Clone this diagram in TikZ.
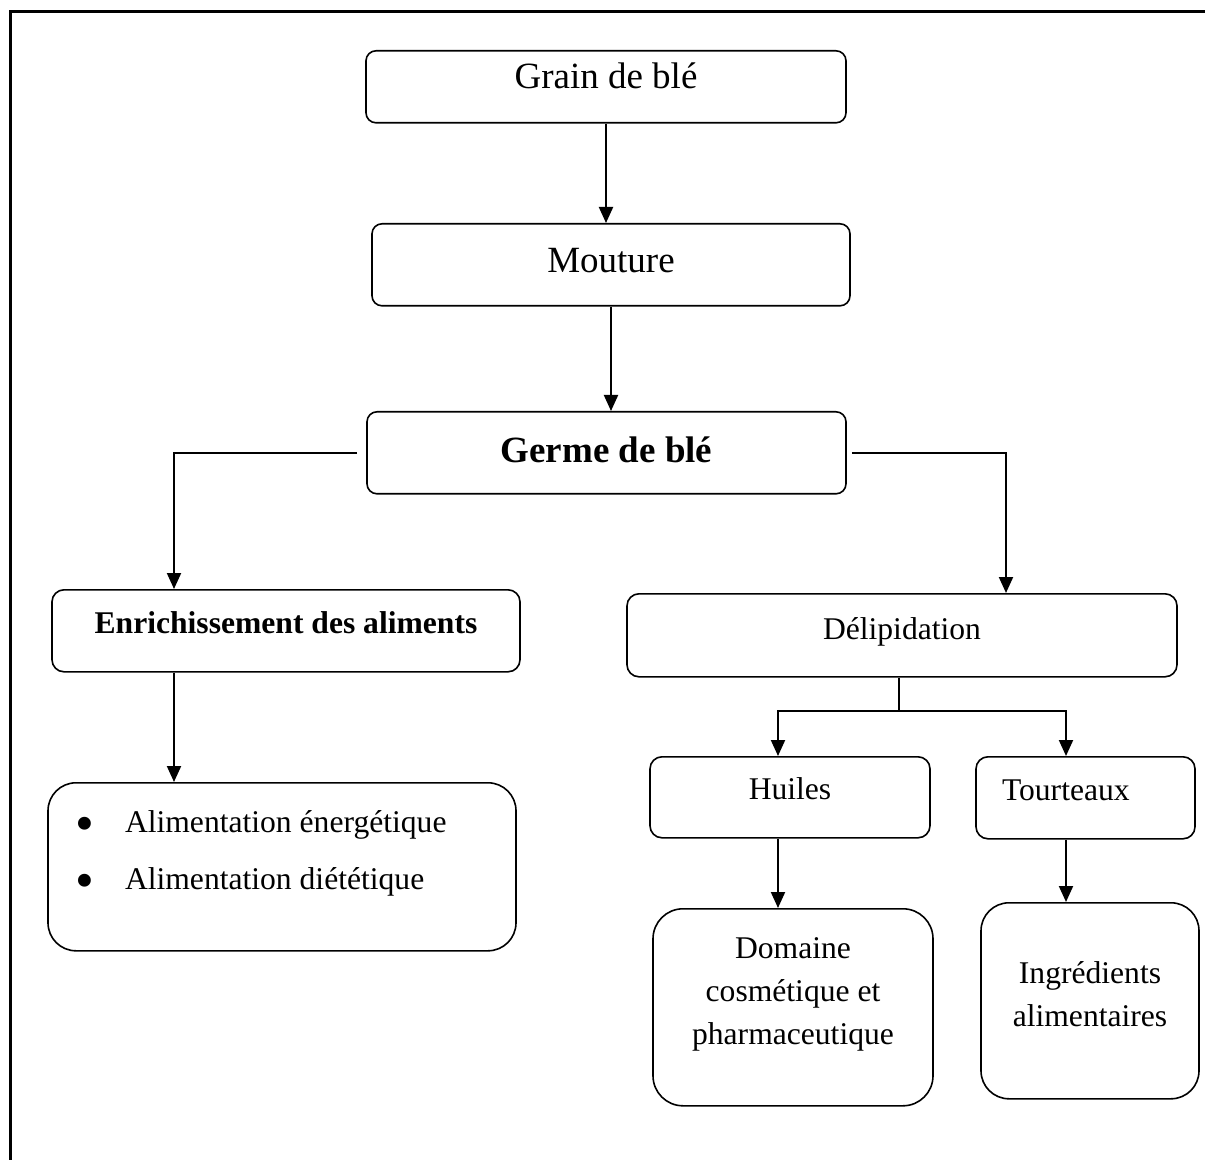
\documentclass[tikz,border=0pt]{standalone}
\usepackage{fontspec}
\setmainfont{Liberation Serif}
\usetikzlibrary{arrows.meta, positioning}

\newcommand{\puce}{\makebox[23.75pt][l]{\hspace{-1pt}\raisebox{-4.5pt}{\scalebox{1.7}{\textbullet}}}}

\begin{document}
\begin{tikzpicture}[
		x=0.5pt, y=-0.5pt,
		>={Triangle[length=8pt,width=7pt]},
		block/.style={draw, rectangle, rounded corners=5pt, inner sep=0pt, anchor=north, align=flush center, line width=0.8pt},
		bigtxt/.style={font=\fontsize{18.5pt}{22pt}\selectfont},
		smalltxt/.style={font=\fontsize{15.8pt}{21.5pt}\selectfont},
		link/.style={->, line width=1pt}
		]
		\useasboundingbox (0,0) rectangle (1205,1160);
		
		% --- frame (top and left only) ---
		\draw[line width=1.5pt] (10,1160) -- (10,12) -- (1205,12);
		
		% --- main column ---
		\node[block, bigtxt, minimum width=240pt, minimum height=36pt, text height=19pt, text depth=17pt] (grain) at (606,50) {Grain de blé};
		\node[block, bigtxt, minimum width=239pt, minimum height=41pt, text height=24.5pt, text depth=16.5pt] (mouture) at (611,223) {Mouture};
		\node[block, bigtxt, minimum width=239.5pt, minimum height=41pt, text height=25.5pt, text depth=15.5pt, font=\fontsize{18.5pt}{22pt}\selectfont\bfseries] (germe) at (606.5,411) {Germe de blé};
		
		% --- left branch ---
		\node[block, smalltxt, rounded corners=6pt, minimum width=234pt, minimum height=41pt, text height=22pt, text depth=19pt, font=\fontsize{15.8pt}{21.5pt}\selectfont\bfseries] (enrich) at (286,589) {Enrichissement des aliments};
		\node[block, smalltxt, rounded corners=14pt, align=flush left, inner xsep=14.75pt, text width=204.5pt, minimum height=84pt, text height=25pt, text depth=59pt] (alim) at (282,782)
			{\puce Alimentation énergétique\\[7pt]\puce Alimentation diététique};
		
		% --- right branch ---
		\node[block, smalltxt, rounded corners=6pt, minimum width=275pt, minimum height=41.5pt, text height=23pt, text depth=18.5pt] (delip) at (902,593) {Délipidation};
		\node[block, smalltxt, rounded corners=6pt, minimum width=140pt, minimum height=40.5pt, text height=21.5pt, text depth=19pt] (huiles) at (790,756) {Huiles};
		\node[block, smalltxt, rounded corners=6pt, align=flush left, inner xsep=13pt, text width=83.5pt, minimum height=41pt, text height=22pt, text depth=19pt] (tourt) at (1085.5,756) {Tourteaux};
		\node[block, smalltxt, rounded corners=15pt, text width=140pt, minimum height=98.5pt, text height=25pt, text depth=73.5pt] (domaine) at (793,908) {Domaine\\cosmétique et\\pharmaceutique};
		\node[block, smalltxt, rounded corners=14pt, text width=109pt, minimum height=98pt, text height=40.5pt, text depth=57.5pt] (ingr) at (1090,902) {Ingrédients\\alimentaires};
		
		% --- connectors ---
		\draw[link] (grain.south) -- (grain.south |- mouture.north);
		\draw[link] (mouture.south) -- (mouture.south |- germe.north);
		\draw[link] ([xshift=-4.5pt]germe.west) -| ([xshift=-56pt]enrich.north);
		\draw[link] ([xshift=2.5pt]germe.east) -| ([xshift=52pt]delip.north);
		\draw[link] ([xshift=-56pt]enrich.south) -- ([xshift=-56pt]enrich.south |- alim.north);
		
		\draw[line width=1pt] ([xshift=-1.5pt]delip.south) -- ++(0,-16.5pt) coordinate (split);
		\draw[link] (split) -| ([xshift=-6pt]huiles.north);
		\draw[link] (split) -| ([xshift=-9.75pt]tourt.north);
		\draw[link] ([xshift=-6pt]huiles.south) -- ([xshift=-6pt]huiles.south |- domaine.north);
		\draw[link] ([xshift=-9.75pt]tourt.south) -- ([xshift=-9.75pt]tourt.south |- ingr.north);
	\end{tikzpicture}
\end{document}
